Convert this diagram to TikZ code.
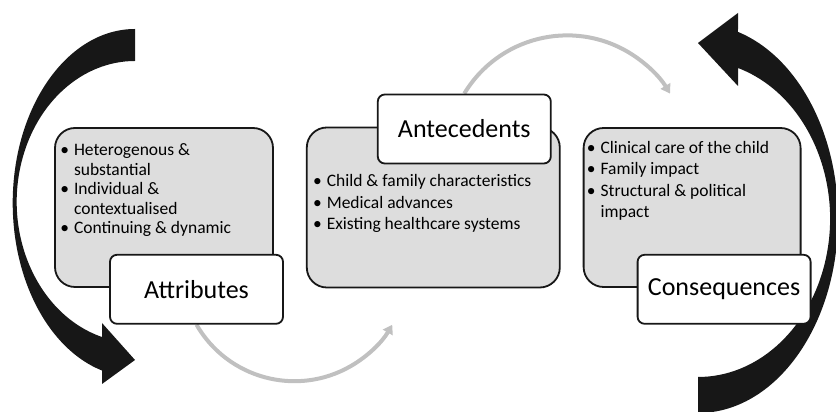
\documentclass[tikz,border=0pt]{standalone}
\usepackage{fontspec}
\setmainfont{Carlito}
\usetikzlibrary{arrows.meta, positioning, backgrounds}
\definecolor{panelgray}{HTML}{DDDDDD}
\definecolor{flowgray}{HTML}{C0C0C0}
\definecolor{inkblack}{HTML}{171717}

\begin{document}
\begin{tikzpicture}[x=1pt, y=1pt,
    panel/.style={draw=inkblack, line width=1.8pt, fill=panelgray, rounded corners=20pt},
    tag/.style={draw=inkblack, line width=1.8pt, fill=white, rounded corners=7pt,
        minimum width=173pt, minimum height=69pt, font=\fontsize{26}{31}\selectfont},
    items/.style={inner sep=0pt, anchor=north west},
    flow/.style={draw=flowgray, line width=4pt, -{Triangle[width=11pt, length=9pt]}},
    swoop/.style={fill=inkblack}]
\useasboundingbox (0,0) rectangle (836,412);
\clip (0,0) rectangle (836,412);

\fill[swoop] (135,383) arc[start angle=90, end angle=254.35, x radius=122.3pt, y radius=174pt]
    -- (102,28) -- (135,52) -- (102,89) -- (102,75)
    arc[start angle=253.8, end angle=90, x radius=118.3pt, y radius=140.8pt] -- cycle;
\fill[swoop] (698,-1) arc[start angle=270, end angle=433.4, x radius=140pt, y radius=194.6pt]
    -- (738,399) -- (698,369) -- (738,326) -- (738,344)
    arc[start angle=432.4, end angle=270, x radius=132pt, y radius=158.2pt] -- cycle;

\node[panel, minimum width=218pt, minimum height=159pt] (attrbox) at (164,204.5) {};
\node[panel, minimum width=253pt, minimum height=160pt, right=32pt of attrbox] (antebox) {};
\node[panel, minimum width=217pt, minimum height=159pt, right=22pt of antebox] (consbox) {};

\node[tag, anchor=north east] (attr) at ([shift={(10pt,34pt)}]attrbox.south east) {Attributes};
\node[tag, anchor=north east] (ante) at ([shift={(-9pt,33pt)}]antebox.north east) {Antecedents};
\node[tag, anchor=north east] (cons) at ([shift={(10pt,34pt)}]consbox.south east) {Consequences};

\node[items, font=\fontsize{17.5}{19.5}\selectfont] (attrtext) at ([shift={(6pt,-15pt)}]attrbox.north west) {%
    \begin{tabular}{@{}l@{\hspace{5pt}}l@{}}
    \textbullet & Heterogenous \& \\
     & substantial \\
    \textbullet & Individual \& \\
     & contextualised \\
    \textbullet & Continuing \& dynamic
    \end{tabular}};
\node[items, font=\fontsize{17.5}{21.5}\selectfont] (antetext) at ([shift={(7pt,-45pt)}]antebox.north west) {%
    \begin{tabular}{@{}l@{\hspace{5pt}}l@{}}
    \textbullet & Child \& family characteristics \\
    \textbullet & Medical advances \\
    \textbullet & Existing healthcare systems
    \end{tabular}};
\node[items, font=\fontsize{17.5}{21.5}\selectfont] (constext) at ([shift={(4pt,-11pt)}]consbox.north west) {%
    \begin{tabular}{@{}l@{\hspace{5pt}}l@{}}
    \textbullet & Clinical care of the child \\
    \textbullet & Family impact \\
    \textbullet & Structural \& political \\
     & impact
    \end{tabular}};

\begin{scope}[on background layer]
\draw[flow] (attr.south) arc[start angle=210, end angle=330, radius=113pt];
\draw[flow] (ante.north) arc[start angle=149, end angle=31, radius=120pt];
\end{scope}
\end{tikzpicture}
\end{document}
